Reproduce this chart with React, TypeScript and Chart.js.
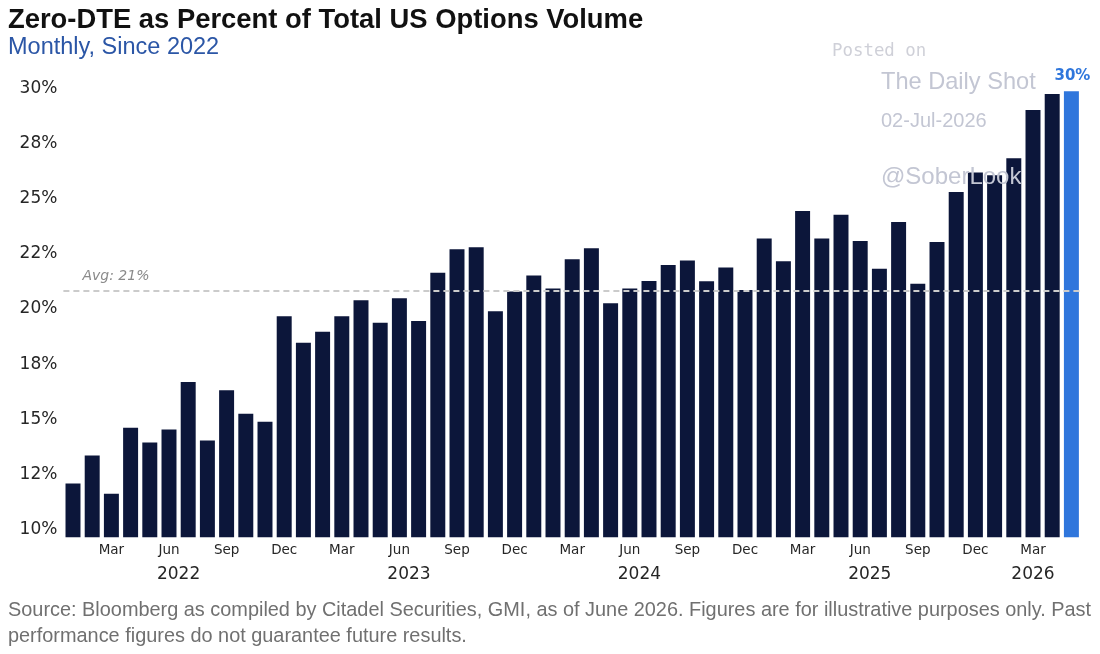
import React, { useEffect, useRef } from 'react';
import { Chart, registerables } from 'chart.js';

Chart.register(...registerables);

// Monthly categories, Jan 2022 .. May 2026
const CATEGORIES = [
  '2022-01', '2022-02', '2022-03', '2022-04', '2022-05', '2022-06', '2022-07', '2022-08', '2022-09', '2022-10', '2022-11', '2022-12',
  '2023-01', '2023-02', '2023-03', '2023-04', '2023-05', '2023-06', '2023-07', '2023-08', '2023-09', '2023-10', '2023-11', '2023-12',
  '2024-01', '2024-02', '2024-03', '2024-04', '2024-05', '2024-06', '2024-07', '2024-08', '2024-09', '2024-10', '2024-11', '2024-12',
  '2025-01', '2025-02', '2025-03', '2025-04', '2025-05', '2025-06', '2025-07', '2025-08', '2025-09', '2025-10', '2025-11', '2025-12',
  '2026-01', '2026-02', '2026-03', '2026-04', '2026-05',
];

// Zero-DTE share of total US options volume (%)
const VALUES = [
  12.09, 13.36, 11.62, 14.62, 13.95, 14.54, 16.69, 14.04, 16.32, 15.25, 14.89, 19.67,
  18.47, 18.97, 19.67, 20.40, 19.38, 20.49, 19.46, 21.65, 22.71, 22.80, 19.90, 20.79,
  21.52, 20.93, 22.26, 22.76, 20.26, 20.93, 21.27, 22.00, 22.20, 21.26, 21.88, 20.86,
  23.20, 22.17, 24.45, 23.20, 24.27, 23.09, 21.83, 23.95, 21.15, 23.04, 25.31, 26.19,
  26.07, 26.84, 29.02, 29.75, 29.87,
];

const Y_TICKS = [10, 12.5, 15, 17.5, 20, 22.5, 25, 27.5, 30];
const Y_TICK_LABELS = ['10%', '12%', '15%', '18%', '20%', '22%', '25%', '28%', '30%'];
const YEARS = ['2022', '2023', '2024', '2025', '2026'];
const SHOWN_MONTHS: Record<string, string> = { '03': 'Mar', '06': 'Jun', '09': 'Sep', '12': 'Dec' };

const Y_MIN = 9.65;
const Y_MAX = 31;

const NAVY = '#0c163a';
const BLUE = '#2f76dc';
const TICK_COLOR = '#262626';

export default function App() {
  const ref = useRef<HTMLCanvasElement | null>(null);

  useEffect(() => {
    const canvas = ref.current;
    if (!canvas) return;
    const last = VALUES.length - 1;
    const avg = VALUES.reduce((a, b) => a + b, 0) / VALUES.length;
    const yearCenters = YEARS.map((yr) => {
      const idx = CATEGORIES.map((c, i) => (c.startsWith(yr) ? i : -1)).filter((i) => i >= 0);
      return idx.reduce((a, b) => a + b, 0) / idx.length;
    });

    const overlay = {
      id: 'overlay',
      afterDatasetsDraw(chart: any) {
        const { ctx, chartArea, scales } = chart;
        const y = scales.y.getPixelForValue(avg);
        ctx.save();
        ctx.strokeStyle = '#cbcbcb';
        ctx.lineWidth = 2;
        ctx.setLineDash([6, 4]);
        ctx.beginPath();
        ctx.moveTo(chartArea.left, y);
        ctx.lineTo(chartArea.right, y);
        ctx.stroke();
        ctx.setLineDash([]);
        ctx.font = 'italic 14px "DejaVu Sans"';
        ctx.fillStyle = '#8a8a8a';
        ctx.textBaseline = 'middle';
        ctx.textAlign = 'left';
        ctx.fillText(`Avg: ${Math.round(avg)}%`, chartArea.left + 19, y - 15);

        // value label over the latest bar
        const bar = chart.getDatasetMeta(0).data[last];
        ctx.font = 'bold 15px "DejaVu Sans"';
        ctx.fillStyle = BLUE;
        ctx.textAlign = 'center';
        ctx.fillText(`${Math.round(VALUES[last])}%`, bar.x + 1, bar.y - 15);

        // year labels, centred under each year's months on the category scale
        ctx.font = '17px "DejaVu Sans"';
        ctx.fillStyle = TICK_COLOR;
        ctx.textAlign = 'center';
        YEARS.forEach((yr, i) => {
          ctx.fillText(yr, scales.x.getPixelForValue(yearCenters[i]), chartArea.bottom + 37.7);
        });
        ctx.restore();
      },
    };

    const chart = new Chart(canvas, {
      type: 'bar',
      data: {
        labels: CATEGORIES,
        datasets: [
          {
            data: VALUES,
            xAxisID: 'x',
            yAxisID: 'y',
            backgroundColor: VALUES.map((_, i) => (i === last ? BLUE : NAVY)),
            borderWidth: 0,
            barPercentage: 0.78,
            categoryPercentage: 1,
          },
        ],
      },
      options: {
        responsive: false,
        animation: false,
        layout: { padding: { top: 66.45, right: 19, bottom: 92.7, left: 0 } },
        plugins: {
          legend: { display: false },
          tooltip: { enabled: false },
          title: { display: false },
        },
        scales: {
          x: {
            type: 'category',
            position: 'bottom',
            offset: true,
            grid: { display: false, drawTicks: false },
            border: { display: false },
            ticks: {
              autoSkip: false,
              maxRotation: 0,
              minRotation: 0,
              padding: 5,
              color: TICK_COLOR,
              font: { family: 'DejaVu Sans', size: 13.5 },
              callback: (_v: any, i: number) => SHOWN_MONTHS[CATEGORIES[i].slice(5)] ?? '',
            },
            afterFit: (s: any) => {
              s.height = 24;
            },
          },
          y: {
            type: 'linear',
            min: Y_MIN,
            max: Y_MAX,
            grid: { display: false, drawTicks: false },
            border: { display: false },
            afterBuildTicks: (s: any) => {
              s.ticks = Y_TICKS.map((v) => ({ value: v }));
            },
            ticks: {
              padding: 6,
              color: TICK_COLOR,
              font: { family: 'DejaVu Sans', size: 17 },
              callback: (_v: any, i: number) => Y_TICK_LABELS[i],
            },
            afterFit: (s: any) => {
              s.width = 63.4;
            },
          },
        },
      } as any,
      plugins: [overlay],
    });

    return () => chart.destroy();
  }, []);

  const sans = '"Liberation Sans", Arial, sans-serif';
  const abs = (left: number, top: number, extra: React.CSSProperties): React.CSSProperties => ({
    position: 'absolute',
    left,
    top,
    lineHeight: 1,
    whiteSpace: 'nowrap',
    fontFamily: sans,
    ...extra,
  });

  return (
    <div
      style={{
        position: 'absolute',
        left: 0,
        top: 0,
        width: 1100,
        height: 654,
        background: '#ffffff',
        overflow: 'hidden',
      }}
    >
      <canvas ref={ref} width={1100} height={654} style={{ position: 'absolute', left: 0, top: 0 }} />
      <div style={abs(8, 5.4, { fontSize: 27.4, fontWeight: 'bold', color: '#111' })}>
        Zero-DTE as Percent of Total US Options Volume
      </div>
      <div style={abs(8, 35, { fontSize: 23.5, color: '#2b56a6' })}>Monthly, Since 2022</div>
      <div
        style={abs(832, 41.5, {
          fontSize: 17.4,
          color: '#cfd0d8',
          fontFamily: '"DejaVu Sans Mono", "Liberation Mono", monospace',
        })}
      >
        Posted on
      </div>
      <div style={abs(881, 70.4, { fontSize: 23.6, color: '#c3c6d3' })}>The Daily Shot</div>
      <div style={abs(881, 110, { fontSize: 20, color: '#c3c6d3' })}>02-Jul-2026</div>
      <div style={abs(881, 164, { fontSize: 24, color: '#c3c6d3' })}>@SoberLook</div>
      <div
        style={{
          position: 'absolute',
          left: 8,
          top: 595.5,
          fontFamily: sans,
          fontSize: 19.9,
          lineHeight: '26px',
          color: '#707070',
          whiteSpace: 'nowrap',
        }}
      >
        Source: Bloomberg as compiled by Citadel Securities, GMI, as of June 2026. Figures are for illustrative purposes only. Past
        <br />
        performance figures do not guarantee future results.
      </div>
    </div>
  );
}
